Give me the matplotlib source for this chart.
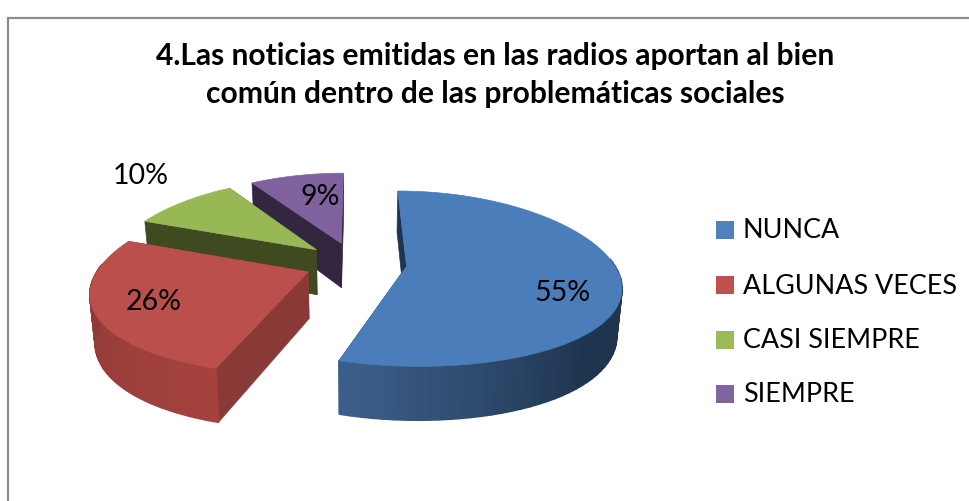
# 3D風の円グラフ matplotlibには無いので自分で投影して描く
import numpy as np
import matplotlib.pyplot as plt
from matplotlib.collections import PolyCollection
from matplotlib.colors import to_rgb
from matplotlib.patches import Polygon, Rectangle

plt.rcParams["font.family"] = ["Lato", "DejaVu Sans"]

# データ
categories = ["NUNCA", "ALGUNAS VECES", "CASI SIEMPRE", "SIEMPRE"]
values = [55, 26, 10, 9]
title = "4.Las noticias emitidas en las radios aportan al bien\ncomún dentro de las problemáticas sociales"

# 色
top_colors = ["#4a7db9", "#ba4f4b", "#98b855", "#7f619e"]
legend_colors = ["#4f81bd", "#c0504d", "#9bbb59", "#8064a2"]
wall_colors = ["#1f344f", "#8a3a36", "#404a20", "#332640"]
# 側面のグラデーション(外周の角度順) 青は右側がしばらく暗いまま
side_colors = [("#1f344f", "#3c5f8a"), ("#a5423e", "#8c3935"), ("#404a20", "#5a6e30"), ("#332640", "#4a3860")]
side_hold = [0.45, 0, 0, 0]

# 投影のパラメータ(ピクセル)
cx, cy = 355, 263
rx, ry = 207, 85
kx, ky = 0.20, 0.14
depth = 46
explode = [0.25, 0.245, 0.25, 0.25]
bottom_x = 0.98


def project(u, v, down=False):
    x = cx + rx * u / (1 + kx * v)
    y = cy - ry * v / (1 + ky * v)
    if down:
        x = cx + (x - cx) * bottom_x
        y = y + depth / (1 + ky * v)
    return np.column_stack([x, y])


fig = plt.figure(figsize=(9.69, 5.01), dpi=100)
ax = fig.add_axes([0, 0, 1, 1])
ax.set_xlim(0, 969)
ax.set_ylim(501, 0)
ax.axis("off")

# 外枠 左と上だけ見えている
ax.plot([8, 8, 969], [501, 18, 18], color="#8c8c8c", lw=1.6, solid_joinstyle="miter")

# 各スライスの角度
edges = np.cumsum([0] + values) / sum(values) * 2 * np.pi

# 奥のスライスから順に描く
for i in [3, 2, 1, 0]:
    t0, t1 = edges[i], edges[i + 1]
    mid = (t0 + t1) / 2
    ou, ov = explode[i] * np.sin(mid), explode[i] * np.cos(mid)
    t = np.linspace(t0, t1, 80)
    u = ou + np.sin(t)
    v = ov + np.cos(t)

    # 切り口の壁
    for te in [t0, t1]:
        us = np.array([ou, ou + np.sin(te)])
        vs = np.array([ov, ov + np.cos(te)])
        pts = np.vstack([project(us, vs), project(us, vs, True)[::-1]])
        ax.add_patch(Polygon(pts, closed=True, fc=wall_colors[i], ec=wall_colors[i], lw=0.5))

    # 外周の側面 手前を向いている所だけ 細い四角で濃淡をつける
    up = project(u, v)
    lo = project(u, v, True)
    front = np.where(np.cos(t) < 0.1)[0]
    quads = [[up[j], up[j + 1], lo[j + 1], lo[j]] for j in front[:-1]]
    if quads:
        c0, c1 = np.array(to_rgb(side_colors[i][0])), np.array(to_rgb(side_colors[i][1]))
        frac = np.linspace(0, 1, len(quads))
        frac = np.clip((frac - side_hold[i]) / (1 - side_hold[i]), 0, 1)[:, None]
        cols = c0 + (c1 - c0) * frac
        ax.add_collection(PolyCollection(quads, facecolors=cols, edgecolors=cols, linewidths=1.2))

    # 上面
    top = np.vstack([project(np.array([ou]), np.array([ov])), up])
    ax.add_patch(Polygon(top, closed=True, fc=top_colors[i], ec=top_colors[i], lw=0.5))

# タイトル
ax.text(495, 75, title, ha="center", va="center", fontsize=21.6, fontweight="bold", color="black", linespacing=1.41)

# パーセント
label_pos = [(562, 293), (154, 302), (141, 176), (320, 197)]
for val, (lx, ly) in zip(values, label_pos):
    ax.text(lx, ly, f"{val}%", ha="center", va="center", fontsize=20.5, color="black")

# 凡例
legend_y = [230, 285, 340, 394]
for name, col, ly in zip(categories, legend_colors, legend_y):
    ax.add_patch(Rectangle((716, ly - 9), 18, 18, fc=col, ec="none"))
    ax.text(743, ly + 1, name, ha="left", va="center", fontsize=19.4, color="black")

fig.savefig("out.png", dpi=100)
